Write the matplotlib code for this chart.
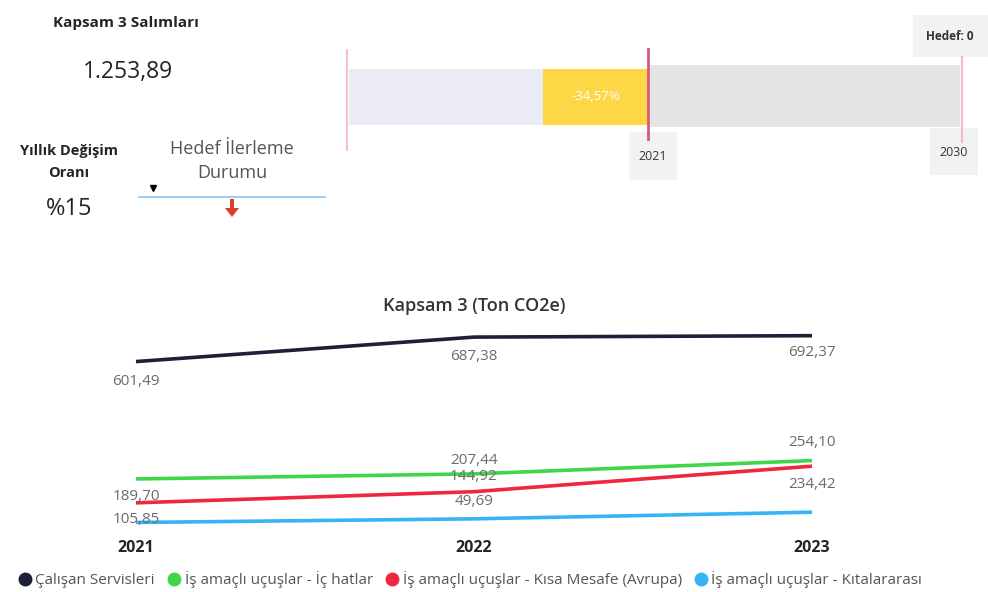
import matplotlib
matplotlib.use("Agg")
import matplotlib.pyplot as plt
from matplotlib.lines import Line2D
from matplotlib.patches import Rectangle, FancyArrow

plt.rcParams['font.family'] = ['Open Sans', 'DejaVu Sans']

# ---------------- data ----------------
years = ["2021", "2022", "2023"]
series_names = [
    "Çalışan Servisleri",
    "İş amaçlı uçuşlar - İç hatlar",
    "İş amaçlı uçuşlar - Kısa Mesafe (Avrupa)",
    "İş amaçlı uçuşlar - Kıtalararası",
]
calisan = [601.49, 687.38, 692.37]
ic_hatlar = [189.70, 207.44, 254.10]
kisa_mesafe = [105.85, 144.92, 234.42]
kitalararasi = [37.0, 49.69, 73.00]
series_values = [calisan, ic_hatlar, kisa_mesafe, kitalararasi]

kpi_title = "Kapsam 3 Salımları"
kpi_value = "1.253,89"
change_label = "%15"
progress_label = "-34,57%"
milestones = ["2021", "2030"]
target_label = "Hedef: 0"
chart_title = "Kapsam 3 (Ton CO2e)"

# ---------------- styles ----------------
colors = ["#1d2036", "#3fd64a", "#ef2840", "#35b5f5"]
# label offsets in pixels (None = label hidden)
label_offsets = [
    [-20, -19, -17],
    [-18, 13, 18],
    [-17, 15, -18],
    [None, 17, None],
]

W, H = 988, 592
fig = plt.figure(figsize=(W / 100, H / 100), dpi=100)

# overlay axes in pixel coordinates for the KPI area
ov = fig.add_axes([0, 0, 1, 1])
ov.set_xlim(0, W)
ov.set_ylim(H, 0)
ov.axis("off")

dark = "#252423"
ov.text(126, 23, kpi_title, ha="center", va="center", fontsize=11, fontweight="bold", color=dark)
ov.text(128, 72, kpi_value, ha="center", va="center", fontsize=16.5, color=dark)
ov.text(69, 151, "Yıllık Değişim", ha="center", va="center", fontsize=10.5, fontweight="bold", color=dark)
ov.text(69, 173, "Oranı", ha="center", va="center", fontsize=10.5, fontweight="bold", color=dark)
ov.text(69, 209, change_label, ha="center", va="center", fontsize=17, color=dark)
ov.text(232, 149, "Hedef İlerleme", ha="center", va="center", fontsize=13, color="#555555")
ov.text(232, 173, "Durumu", ha="center", va="center", fontsize=13, color="#555555")
ov.plot([139, 325], [197, 197], color="#9fd0f5", lw=1.5)
ov.plot([153], [188], marker="v", color="black", markersize=5)
ov.add_patch(FancyArrow(232, 199, 0, 18, width=4, head_width=14, head_length=9,
                        length_includes_head=True, color="#d6402c", lw=0))

# progress bar
ov.barh(97, 194, left=349, height=56, color="#ebebf5")
ov.barh(97, 105, left=543, height=56, color="#fdd745")
ov.barh(96, 310, left=650, height=62, color="#e4e4e4")
ov.text(596, 97, progress_label, ha="center", va="center", fontsize=9.5, color="white")
ov.plot([347, 347], [50, 150], color="#f6bfd0", lw=1.5)
ov.plot([962, 962], [57, 142], color="#f4b8c8", lw=1.5, zorder=4)
ov.add_patch(Rectangle((629, 132), 48, 48, color="#f2f2f2", lw=0))
ov.add_patch(Rectangle((930, 128), 48, 47, color="#f2f2f2", lw=0, zorder=3))
ov.add_patch(Rectangle((913, 15), 75, 42, color="#f2f2f2", lw=0))
ov.plot([648, 648], [49, 139], color="#d9577f", lw=2, zorder=4)
ov.text(653, 156, milestones[0], ha="center", va="center", fontsize=9, color="#333333")
ov.text(954, 153, milestones[1], ha="center", va="center", fontsize=9, color="#333333", zorder=5)
ov.text(950, 37, target_label, ha="center", va="center", fontsize=8.5, fontweight="bold", color="#333333")

# ---------------- line chart ----------------
x0, x1 = 136, 812
ybot, ytop = 533, 333.5
ax = fig.add_axes([x0 / W, (H - ybot) / H, (x1 - x0) / W, (ybot - ytop) / H])
ax.set_xlim(0, len(years) - 1)
ax.set_ylim(0, 700)
xs = list(range(len(years)))
for vals, c, offs in zip(series_values, colors, label_offsets):
    ax.plot(xs, vals, color=c, lw=2.6, clip_on=False, solid_capstyle="butt")
    for xi, v, o in zip(xs, vals, offs):
        if o is None:
            continue
        ax.annotate(f"{v:.2f}".replace(".", ","), (xi, v), xytext=(0, o * 0.72),
                    textcoords="offset points", ha="center", va="center",
                    fontsize=11, color="#6b6b6b", annotation_clip=False)
for s in ax.spines.values():
    s.set_visible(False)
ax.set_yticks([])
ax.set_xticks(xs)
ax.set_xticklabels(years, fontweight="bold", fontsize=11.5, color="#252423")
ax.tick_params(axis="x", length=0, pad=5)
ax.patch.set_alpha(0)
fig.text(474 / W, 1 - 306 / H, chart_title, ha="center", va="center", fontsize=13,
         fontweight="semibold", color="#333333")

handles = [Line2D([], [], marker="o", linestyle="none", color=c, markersize=9) for c in colors]
fig.legend(handles, series_names, loc="center", bbox_to_anchor=(470 / W, 1 - 580 / H), ncol=4,
           frameon=False, fontsize=11, handletextpad=0.25, columnspacing=0.8, handlelength=0.9,
           labelcolor="#555555", borderpad=0)

fig.savefig("out.png", dpi=100)
